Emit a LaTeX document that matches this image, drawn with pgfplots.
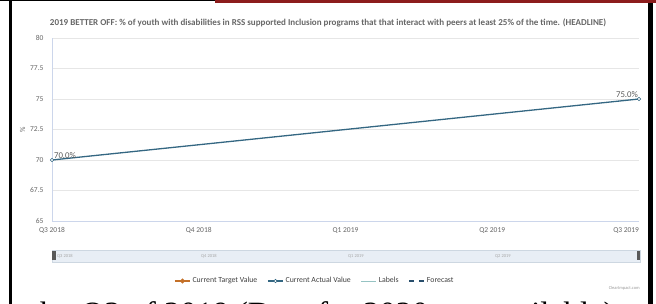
\documentclass[border=0pt]{standalone}
\usepackage{pgfplots}
\pgfplotsset{compat=1.18}
\usepackage{fontspec}
\setmainfont{Carlito}
\newfontfamily\serifbig{Liberation Serif}
\definecolor{actual}{RGB}{52,103,130}
\definecolor{target}{RGB}{196,112,40}
\definecolor{lbl}{RGB}{150,195,195}
\definecolor{fcst}{RGB}{40,78,108}
\definecolor{txt}{RGB}{102,102,102}
\definecolor{gridc}{RGB}{230,230,230}
\definecolor{axisc}{RGB}{204,214,235}
\definecolor{framered}{RGB}{140,28,28}
\definecolor{navfill}{RGB}{232,238,245}
\definecolor{navline}{RGB}{205,215,225}

\begin{document}
\begin{tikzpicture}[x=1pt,y=1pt]
\useasboundingbox (0,0) rectangle (656,304);
% frame of the screenshot
\fill[black] (9,0) rectangle (12,304);
\fill[black] (648,0) rectangle (653,304);
\fill[black] (0,302.5) rectangle (215,304);
\fill[framered] (215,301) rectangle (656,304);
% title
\node[text=txt, inner sep=0] at (328,281) {\resizebox{556pt}{!}{\fontsize{7.4}{8}\selectfont\bfseries 2019 BETTER OFF: \% of youth with disabilities in RSS supported Inclusion programs that that interact with peers at least 25\% of the time. (HEADLINE)}};

\begin{axis}[
  at={(52pt,83pt)}, anchor=south west, scale only axis,
  width=587pt, height=183pt,
  xmin=0, xmax=4, ymin=65, ymax=80,
  xtick={0,1,2,3,4},
  xticklabels={Q3 2018,Q4 2018,Q1 2019,Q2 2019,\makebox[0pt][r]{Q3 2019}},
  ytick={65,67.5,70,72.5,75,77.5,80},
  yticklabels={65,67.5,70,72.5,75,77.5,80},
  ymajorgrids, grid style={gridc, line width=0.6pt},
  axis x line*=bottom, axis y line*=left,
  axis line style={-, draw=axisc, line width=0.6pt},
  major tick length=0pt, tick style={draw=none},
  ticklabel style={font=\fontsize{7.5}{8}\selectfont, text=txt},
  xticklabel style={yshift=-3pt},
  yticklabel style={xshift=-5pt},
  ylabel={\%}, ylabel style={at={(axis description cs:-0.05,0.5)}, anchor=center, font=\fontsize{7.5}{8}\selectfont, text=txt},
  legend style={at={(0.448,-0.328)}, anchor=center, draw=none, fill=none,
    font=\fontsize{7.8}{8}\selectfont, text=black!75, inner sep=0pt},
  legend columns=4,
  legend cell align=left,
  /tikz/every even column/.append style={column sep=8pt},
  legend image code/.code={\draw[mark repeat=2, mark phase=2, #1] plot coordinates {(0pt,0pt) (7.5pt,0pt) (15pt,0pt)};},
  clip=false,
]
\addlegendimage{target, line width=1.2pt, mark=*, mark size=1.8pt}
\addlegendentry{Current Target Value}
\addplot[actual, line width=1.3pt, mark=*, mark size=1.7pt,
  mark options={fill=white, draw=actual, line width=0.6pt},
  point meta=y,
  visualization depends on={\thisrow{dx} \as \dx},
  nodes near coords={\pgfmathprintnumber[fixed,fixed zerofill,precision=1,assume math mode=true]{\pgfplotspointmeta}\%},
  every node near coord/.append style={font=\fontsize{8.8}{9}\selectfont, text=black!65, xshift=\dx pt, yshift=-2pt},
] table {
x y dx
0 70 13
4 75 -12
};
\addlegendentry{Current Actual Value}
\addlegendimage{lbl, line width=1pt}
\addlegendentry{Labels}
\addlegendimage{fcst, line width=1.3pt, dash pattern=on 5pt off 5pt}
\addlegendentry{Forecast}
\end{axis}

% navigator
\fill[navfill] (52,42) rectangle (640,54);
\draw[navline, line width=0.5pt] (52,42) rectangle (640,54);
\fill[black!65] (52,43.5) rectangle (55.5,52.5);
\fill[black!65] (636.5,43.5) rectangle (640,52.5);
\begin{scope}[every node/.style={anchor=west, inner sep=0, font=\fontsize{4.5}{5}\selectfont, text=black!35}]
\node at (57,48) {Q3 2018};
\node at (201,48) {Q4 2018};
\node at (348,48) {Q1 2019};
\node at (495,48) {Q2 2019};
\end{scope}
% credits
\node[anchor=east, inner sep=0, font=\fontsize{4.5}{5}\selectfont, text=black!40] at (640,16) {ClearImpact.com};
% cropped caption below the screenshot
\begin{scope}
\clip (12,0) rectangle (648,304);
\node[anchor=base west, inner sep=0, font=\serifbig\fontsize{32.5}{40}\selectfont] at (23,-21) {t by Q3 of 2019 (Data for 2020 not available)};
\end{scope}
\end{tikzpicture}
\end{document}
